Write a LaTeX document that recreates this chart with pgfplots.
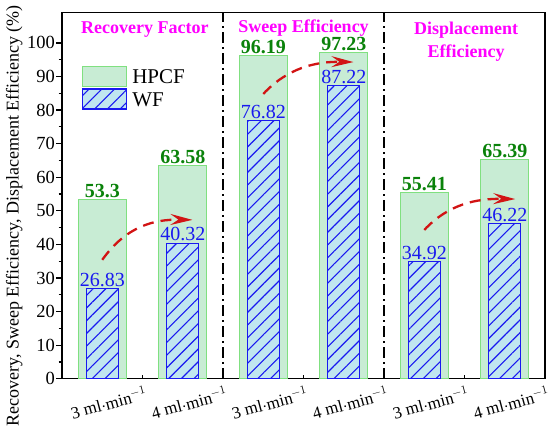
\documentclass[border=0pt]{standalone}
\usepackage{fontspec}
\setmainfont{Liberation Serif}
\usepackage{pgfplots}
\pgfplotsset{compat=1.18}
\usetikzlibrary{patterns.meta, arrows.meta}
\definecolor{hpcfFill}{RGB}{200,236,212}
\definecolor{hpcfEdge}{RGB}{128,224,128}
\definecolor{wfFill}{RGB}{192,230,240}
\definecolor{wfBlue}{RGB}{25,25,240}
\definecolor{valGreen}{RGB}{10,130,10}
\definecolor{arrowRed}{RGB}{210,20,20}
\definecolor{titleMag}{RGB}{255,0,255}
\begin{document}
\begin{tikzpicture}
\begin{axis}[
  scale only axis, width=483pt, height=366pt,
  xmin=0.5, xmax=6.5, ymin=0, ymax=109,
  ybar, bar width=0.6, bar shift=0pt,
  xtick={1,2,3,4,5,6},
  xticklabels={3 ml$\cdot$min$^{-1}$,4 ml$\cdot$min$^{-1}$,3 ml$\cdot$min$^{-1}$,4 ml$\cdot$min$^{-1}$,3 ml$\cdot$min$^{-1}$,4 ml$\cdot$min$^{-1}$},
  minor xtick={1.5,2.5,3.5,4.5,5.5},
  ytick={0,10,...,100}, minor ytick={5,15,...,95},
  xtick pos=bottom, ytick pos=left,
  xtick align=inside, ytick align=outside,
  major tick length=6pt, minor tick length=3.5pt,
  tick style={black, line width=1.2pt},
  axis line style={line width=1.5pt},
  /pgf/number format/assume math mode=true,
  yticklabel style={font=\fontsize{18.5}{20}\selectfont, inner sep=1pt},
  xticklabel style={font=\fontsize{17}{19}\selectfont, rotate=15, anchor=north, yshift=-14pt},
  ylabel={Recovery, Sweep Efficiency, Displacement Efficiency (\%)},
  ylabel style={font=\fontsize{18}{20}\selectfont, at={(ticklabel cs:0.445)}},
  legend style={at={(0.035,0.86)}, anchor=north west, draw=none, fill=none,
    font=\fontsize{21}{23}\selectfont, row sep=1pt,
    nodes={inner xsep=5pt}},
  legend cell align=left,
  legend image code/.code={\draw[#1] (0pt,-9pt) rectangle (44pt,11pt);},
]
\addplot[fill=hpcfFill, draw=hpcfEdge, line width=1pt,
  nodes near coords={\pgfmathprintnumber[fixed,precision=2]{\pgfplotspointmeta}},
  every node near coord/.append style={font=\bfseries\fontsize{20}{22}\selectfont, text=valGreen, inner sep=1pt}]
  coordinates {(1,53.3) (2,63.58) (3,96.19) (4,97.23) (5,55.41) (6,65.39)};
\addlegendentry{HPCF}
\addplot[bar width=0.4, fill=wfFill, draw=wfBlue, line width=1.2pt,
  postaction={pattern={Lines[angle=45,distance=9pt,line width=1.1pt]}, pattern color=wfBlue},
  nodes near coords={\pgfmathprintnumber[fixed,precision=2]{\pgfplotspointmeta}},
  every node near coord/.append style={font=\fontsize{20}{22}\selectfont, text=wfBlue, inner sep=1.5pt}]
  coordinates {(1,26.83) (2,40.32) (3,76.82) (4,87.22) (5,34.92) (6,46.22)};
\addlegendentry{WF}
\draw[black, line width=1.5pt, dash pattern=on 11pt off 4pt on 2pt off 4pt] (axis cs:2.5,0) -- (axis cs:2.5,109);
\draw[black, line width=1.5pt, dash pattern=on 11pt off 4pt on 2pt off 4pt] (axis cs:4.5,0) -- (axis cs:4.5,109);
\tikzset{redarrow/.style={arrowRed, line width=2.3pt, dash pattern=on 11pt off 7pt, -{Stealth[length=22pt,width=11pt,inset=8pt]}}}
\draw[redarrow]
  (axis cs:1.0,35.4) .. controls (axis cs:1.3,45.5) and (axis cs:1.65,47.5) .. (axis cs:2.12,47.3);
\draw[redarrow]
  (axis cs:3.0,84.8) .. controls (axis cs:3.3,92.5) and (axis cs:3.65,94.5) .. (axis cs:4.12,94.3);
\draw[redarrow]
  (axis cs:5.0,44.3) .. controls (axis cs:5.3,52) and (axis cs:5.65,53.7) .. (axis cs:6.13,53.5);
\node[font=\bfseries\fontsize{18}{20}\selectfont, text=titleMag] at (axis cs:1.53,104.0) {Recovery Factor};
\node[font=\bfseries\fontsize{18}{20}\selectfont, text=titleMag] at (axis cs:3.5,104.4) {Sweep Efficiency};
\node[font=\bfseries\fontsize{18}{23}\selectfont, text=titleMag, align=center] at (axis cs:5.52,100.4) {Displacement\\Efficiency};
\end{axis}
\pgfresetboundingbox
\path ([xshift=-62pt,yshift=-54pt]current axis.south west) rectangle ([xshift=5pt,yshift=12.7pt]current axis.north east);
\end{tikzpicture}
\end{document}
